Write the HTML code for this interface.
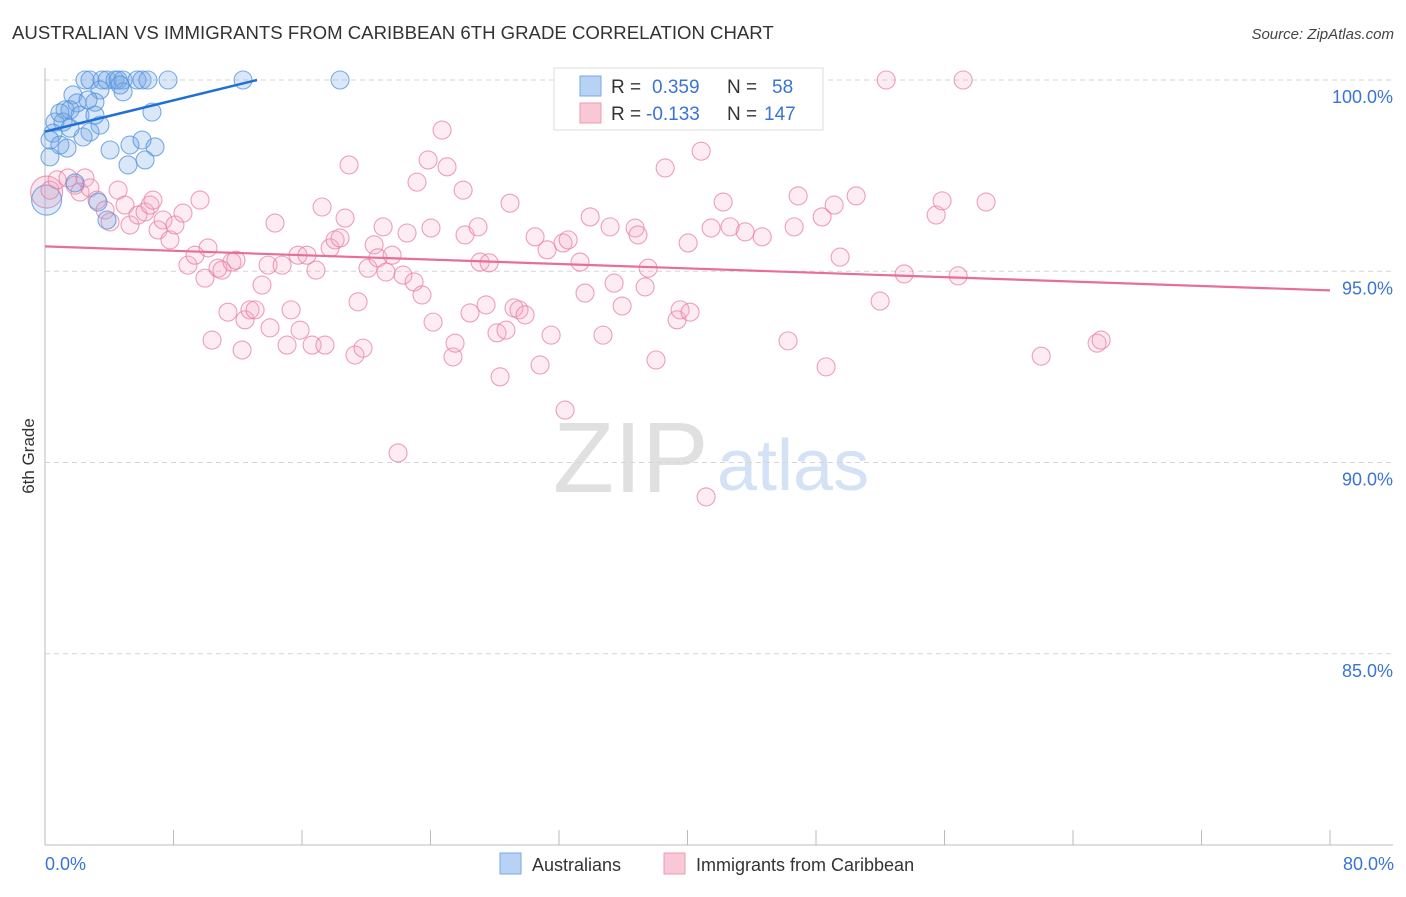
<!DOCTYPE html>
<html><head><meta charset="utf-8"><style>
body{margin:0;background:#fff;font-family:"Liberation Sans",sans-serif;}
svg text{font-family:"Liberation Sans",sans-serif;}
</style></head><body>
<svg id="chart" width="1406" height="892" viewBox="0 0 1406 892" xmlns="http://www.w3.org/2000/svg">
<text x="12" y="39" font-size="18.6" fill="#333">AUSTRALIAN VS IMMIGRANTS FROM CARIBBEAN 6TH GRADE CORRELATION CHART</text>
<text x="1394" y="39" font-size="15" fill="#444" font-style="italic" text-anchor="end">Source: ZipAtlas.com</text>
<g>
<text x="553" y="492" font-size="100" font-family="Liberation Serif" fill="#e0e0e0">ZIP</text>
<text x="717" y="490" font-size="72" fill="#d3e2f4">atlas</text>
</g>
<g id="grid"></g>
<g id="axes"></g>
<g id="pts"></g>
<g id="trends"></g>
<text transform="translate(34,456) rotate(-90)" font-size="17" fill="#333" text-anchor="middle">6th Grade</text>
<text x="45" y="870" font-size="18" fill="#3a74d4">0.0%</text>
<text x="1394" y="870" font-size="18" fill="#3a74d4" text-anchor="end">80.0%</text>
<g>
<rect x="554" y="68" width="269" height="62" fill="#fff" stroke="#ddd"/>
<rect x="580" y="76" width="21" height="20" fill="#b7d2f5" stroke="#7aa9e6"/>
<text x="611" y="93" font-size="19" fill="#333">R =</text>
<text x="652" y="93" font-size="19" fill="#3a74d4">0.359</text>
<text x="727" y="93" font-size="19" fill="#333">N =</text>
<text x="772" y="93" font-size="19" fill="#3a74d4">58</text>
<rect x="580" y="103" width="21" height="20" fill="#f9c8d6" stroke="#ee9ab4"/>
<text x="611" y="120" font-size="19" fill="#333">R =</text>
<text x="646" y="120" font-size="19" fill="#3a74d4">-0.133</text>
<text x="727" y="120" font-size="19" fill="#333">N =</text>
<text x="764" y="120" font-size="19" fill="#3a74d4">147</text>
</g>
<g>
<rect x="500" y="853" width="21" height="21" fill="#b7d2f5" stroke="#7aa9e6"/>
<text x="532" y="871" font-size="18" fill="#333">Australians</text>
<rect x="664" y="853" width="21" height="21" fill="#f9c8d6" stroke="#ee9ab4"/>
<text x="696" y="871" font-size="18" fill="#333">Immigrants from Caribbean</text>
</g>
</svg>
<script>
const yTicks=[100,95,90,85];
const yTickLabels=["100.0%","95.0%","90.0%","85.0%"];
const blueX=[2.49,2.80,3.55,3.86,4.36,4.55,4.86,5.73,6.04,6.41,7.66,12.33,18.37,3.42,4.86,1.74,3.11,1.99,1.25,1.56,2.18,6.66,0.62,1.12,3.42,2.80,2.37,0.50,0.31,0.93,1.37,0.31,4.05,5.29,6.04,6.85,5.17,6.23,1.87,3.30,3.86,0.93,2.68,4.67,3.11,1.56];
const blueY=[100,100,100,100,100,100,100,100,100,100,100,100,100,99.74,99.69,99.61,99.42,99.40,99.22,99.22,99.08,99.16,98.90,98.90,98.82,98.64,98.51,98.61,98.43,98.30,98.22,97.99,98.17,98.30,98.43,98.25,97.78,97.91,97.31,96.81,96.34,99.14,99.48,99.87,99.08,98.74];
const pinkX=[0.31,0.75,1.43,1.87,2.18,2.49,2.80,3.24,3.74,4.05,4.55,4.98,5.29,5.79,6.23,6.54,6.72,7.04,7.35,7.78,8.09,8.59,8.90,9.34,9.65,9.96,10.15,10.40,10.77,11.02,11.39,11.64,11.89,12.27,12.45,12.76,13.08,13.51,13.89,14.01,14.32,14.76,15.07,15.32,15.75,15.88,16.31,16.63,16.87,17.25,17.43,17.75,18.06,18.37,18.68,18.93,19.30,19.49,19.80,20.11,20.49,20.73,21.05,21.23,21.61,21.98,22.29,22.54,22.98,23.16,23.47,23.85,24.03,24.16,24.72,25.03,25.40,25.53,26.03,26.15,26.46,26.96,27.09,27.46,27.65,28.14,28.33,28.70,28.95,29.20,29.51,29.89,30.51,30.82,31.26,31.51,32.25,32.57,32.38,33.31,33.62,33.94,34.74,35.18,35.43,35.93,36.74,36.92,37.36,37.55,38.04,38.61,39.35,39.54,40.04,40.16,40.85,41.16,41.47,42.22,42.65,43.59,44.65,46.26,46.64,46.89,48.38,48.63,49.13,49.50,50.50,51.99,52.37,53.49,55.48,55.85,56.85,57.16,58.59,62.02,65.50,65.75];
const pinkY=[97.12,97.39,97.44,97.25,97.07,97.44,97.18,96.86,96.60,96.29,97.12,96.73,96.21,96.47,96.55,96.73,96.86,96.08,96.34,95.82,96.21,96.52,95.16,95.42,96.86,94.82,95.61,93.20,95.08,95.03,93.93,95.24,95.29,92.94,93.73,93.99,93.99,94.64,95.16,93.52,96.26,95.16,93.07,93.99,95.42,93.46,95.42,93.07,95.03,96.68,93.07,95.61,95.82,95.87,96.39,97.78,92.81,94.20,92.99,95.08,95.69,95.35,96.16,94.98,95.42,90.25,94.90,96.00,94.72,97.33,94.38,97.91,96.13,93.67,98.69,97.73,92.76,93.12,97.12,95.95,93.91,96.16,95.24,94.12,95.22,93.39,92.24,93.46,96.78,94.04,93.99,93.86,95.90,92.55,95.56,93.33,95.74,95.82,91.37,95.24,94.43,96.42,93.33,96.16,94.69,94.09,96.13,95.95,94.59,95.08,92.68,97.70,93.73,93.99,95.74,93.93,98.14,89.10,96.13,96.81,96.16,96.03,95.90,93.18,96.16,96.97,96.42,92.50,96.73,95.37,96.97,94.22,100.0,94.93,96.47,96.84,94.88,100.0,96.81,92.78,93.12,93.20];
const bigBlue=[0.1,96.86];
const bigPink=[0.1,97.07];
const blueTrend=[[0,98.65],[13.2,100]];
const pinkTrend=[[0,95.65],[80,94.5]];
const NS="http://www.w3.org/2000/svg";
const X=v=>45+v/80*1285;
const Y=v=>80+(100-v)/5*191.25;
function mk(tag,attrs,parent){const e=document.createElementNS(NS,tag);for(const k in attrs)e.setAttribute(k,attrs[k]);parent.appendChild(e);return e;}
const grid=document.getElementById('grid'),axes=document.getElementById('axes'),pts=document.getElementById('pts'),tr=document.getElementById('trends');
yTicks.forEach((t,i)=>{
 const l=mk('line',{x1:45,x2:1393,y1:Y(t),y2:Y(t),stroke:'#d6d6d6','stroke-dasharray':'5,4'},grid);
 
 
 const tx=mk('text',{x:1393,y:Y(t)+23,'font-size':18,fill:'#3a74d4','text-anchor':'end'},axes);
 tx.textContent=yTickLabels[i];
 
 
});
const la=mk('line',{x1:45,x2:45,y1:68,y2:845,stroke:'#bbb'},axes);


const ba=mk('line',{x1:45,x2:1393,y1:845,y2:845,stroke:'#bbb'},axes);


for(let i=0;i<=10;i++){
 const t=mk('line',{x1:X(i*8),x2:X(i*8),y1:830,y2:845,stroke:'#bbb'},axes);
 
 
}
function dot(x,y,r,fill,stroke,name){
 const c=mk('circle',{cx:X(x),cy:Y(y),r:r,fill:fill,stroke:stroke,'stroke-width':1.1},pts);
 
 
}
dot(bigPink[0],bigPink[1],16,'rgba(240,150,180,0.25)','rgba(232,120,160,0.75)','point-caribbean');
dot(bigBlue[0],bigBlue[1],15,'rgba(120,170,230,0.25)','rgba(80,145,220,0.75)','point-australians');
pinkX.forEach((x,i)=>dot(x,pinkY[i],9,'rgba(245,170,195,0.22)','rgba(232,120,160,0.7)','point-caribbean'));
blueX.forEach((x,i)=>dot(x,blueY[i],9,'rgba(120,170,230,0.28)','rgba(80,145,220,0.75)','point-australians'));
const b=mk('line',{x1:X(blueTrend[0][0]),y1:Y(blueTrend[0][1]),x2:X(blueTrend[1][0]),y2:Y(blueTrend[1][1]),stroke:'#1f6fd6','stroke-width':2.5},tr);


const p=mk('line',{x1:X(pinkTrend[0][0]),y1:Y(pinkTrend[0][1]),x2:X(pinkTrend[1][0]),y2:Y(pinkTrend[1][1]),stroke:'#e86d98','stroke-width':2.2},tr);


</script>
</body></html>
